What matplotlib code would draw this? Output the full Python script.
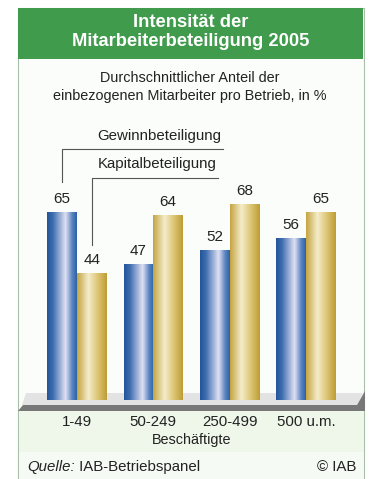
import numpy as np
import matplotlib; matplotlib.use('Agg'); import matplotlib.pyplot as plt
from matplotlib.colors import LinearSegmentedColormap
from matplotlib.patches import Rectangle, Polygon

plt.rcParams['font.family'] = ['Liberation Sans', 'DejaVu Sans']

# ---- data ------------------------------------------------------------
groups   = ['1-49', '50-249', '250-499', '500 u.m.']
gewinn   = [65, 47, 52, 56]      # Gewinnbeteiligung
kapital  = [44, 64, 68, 65]      # Kapitalbeteiligung
title    = 'Intensität der\nMitarbeiterbeteiligung 2005'
subtitle = 'Durchschnittlicher Anteil der\neinbezogenen Mitarbeiter pro Betrieb, in %'

W, H = 372, 479
fig = plt.figure(figsize=(W/100, H/100), dpi=100, facecolor='white')
tc = '#222222'

# background / frame in pixel coordinates (y down)
bg = fig.add_axes([0, 0, 1, 1]); bg.set_xlim(0, W); bg.set_ylim(H, 0); bg.axis('off')
green = '#409b4c'
bg.add_patch(Rectangle((18, 8), 346, H, fc='#fbfdfa', ec='#a8c0a8', lw=0.8))
bg.add_patch(Rectangle((18, 8), 345, 51, fc=green, ec='none'))
bg.add_patch(Rectangle((18.5, 411), 345, 41, fc='#eef7ea', ec='none'))
bg.add_patch(Rectangle((18.5, 452), 345, 27, fc='#f6faf4', ec='none'))
bg.add_patch(Polygon([(26, 393), (363, 393), (357, 405), (22, 405)], fc='#e3e3e3', ec='none'))
bg.add_patch(Polygon([(18, 411), (365, 411), (365, 391), (357, 405), (23, 405)], fc='#787878', ec='none'))
bg.text(190.5, 32, title, color='white', fontsize=13.2, fontweight='bold',
        ha='center', va='center', linespacing=1.12)
bg.text(190, 87, subtitle, color=tc, fontsize=10.4, ha='center', va='center', linespacing=1.3)
q = bg.text(27.5, 467, 'Quelle:', fontsize=10.8, style='italic', color=tc, va='center')
bg.annotate(' IAB-Betriebspanel', xy=(1, 0.5), xycoords=q, fontsize=10.8, color=tc, va='center')
bg.text(356, 467, '© IAB', fontsize=10.8, color=tc, va='center', ha='right')

# ---- bars ------------------------------------------------------------
ax = fig.add_axes([38.8/W, (H-400)/H, 305.2/W, 280/H])
ax.patch.set_alpha(0); ax.axis('off')
x = np.arange(len(groups)); w = 0.387
blue_cm = LinearSegmentedColormap.from_list('b', [(0, '#24559a'), (0.2, '#3f6fb0'), (0.62, '#dfe0f3'),
                                                  (0.85, '#5a84c0'), (1, '#2d62a6')])
gold_cm = LinearSegmentedColormap.from_list('g', [(0, '#c5a443'), (0.38, '#f4edca'), (0.7, '#dcc574'),
                                                  (1, '#bf9d36')])
grad = np.linspace(0, 1, 64).reshape(1, -1)
for vals, off, cm in ((gewinn, -w/2, blue_cm), (kapital, w/2, gold_cm)):
    bars = ax.bar(x + off, vals, width=w, color='none', zorder=2)
    for b, v in zip(bars, vals):
        im = ax.imshow(grad, extent=[b.get_x(), b.get_x()+w, 0, v], aspect='auto', cmap=cm, zorder=2)
        im.set_clip_path(b)
        ax.text(b.get_x()+w/2, v+4.4, str(v), ha='center', va='center', fontsize=11, color=tc)

for xi, g in zip(x, groups):
    ax.text(xi, -7.6, g, ha='center', va='center', fontsize=10.8, color=tc, clip_on=False)
ax.text(x.mean(), -13.9, 'Beschäftigte', ha='center', va='center', fontsize=10.4, color=tc, clip_on=False)

# leader lines to the first group
lc = '#555555'
ax.plot([x[0]-w/2, x[0]-w/2, 1.914], [gewinn[0]+10.4, 86.9, 86.9], color=lc, lw=0.8, clip_on=False)
ax.plot([x[0]+w/2, x[0]+w/2, 1.848], [kapital[0]+9.6, 76.8, 76.8], color=lc, lw=0.8, clip_on=False)
ax.text(1.89, 91.3, 'Gewinnbeteiligung', ha='right', va='center', fontsize=10.8, color=tc)
ax.text(1.83, 81.6, 'Kapitalbeteiligung', ha='right', va='center', fontsize=10.8, color=tc)

ax.set_xlim(-0.5, 3.5); ax.set_ylim(0, 96.9)
fig.savefig('out.png', dpi=100, facecolor='white')
